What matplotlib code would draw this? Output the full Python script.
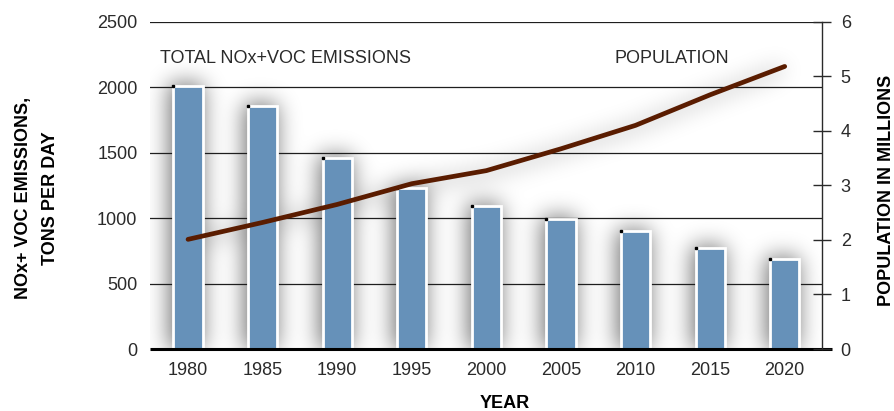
import numpy as np
import matplotlib
matplotlib.use("Agg")
import matplotlib.pyplot as plt

# Emissions (tons/day) and population (millions) by year
years = ["1980", "1985", "1990", "1995", "2000", "2005", "2010", "2015", "2020"]
emissions = [2010, 1855, 1462, 1230, 1093, 995, 898, 772, 690]
population = [2.01, 2.32, 2.65, 3.03, 3.27, 3.67, 4.10, 4.66, 5.18]

left_ticks = [0, 500, 1000, 1500, 2000, 2500]
right_ticks = [0, 1, 2, 3, 4, 5, 6]

BAR_COLOR = "#6691b9"
LINE_COLOR = "#5a1c00"
TEXT_COLOR = "#2a2a2a"
FONT = ["Liberation Sans", "DejaVu Sans"]

plt.rcParams["font.family"] = FONT

W_PX, H_PX = 895, 411
fig = plt.figure(figsize=(W_PX / 100, H_PX / 100), dpi=100)
ax_l, ax_r, ax_b, ax_t = 150 / W_PX, 822 / W_PX, 1 - 349 / H_PX, 1 - 21.7 / H_PX
ax = fig.add_axes([ax_l, ax_b, ax_r - ax_l, ax_t - ax_b])

x = np.arange(len(years))
bar_w = 0.39
xlim = (-0.51, 8.5)
ylim_l = (0, 2500)
ylim_r = (0, 6)
ax.set_xlim(*xlim)
ax.set_ylim(*ylim_l)

# ---- soft drop shadow under bars and the population line ----
axw = int(round((ax_r - ax_l) * W_PX))
axh = int(round((ax_t - ax_b) * H_PX))
xx, yy = np.meshgrid(np.arange(axw) + 0.5, np.arange(axh) + 0.5)
mask = np.zeros((axh, axw))

def to_px_x(v):
    return (np.asarray(v, float) - xlim[0]) / (xlim[1] - xlim[0]) * axw

off_x, off_y = -2.0, 2.0
for xi, v in zip(x, emissions):
    cx = to_px_x(xi) + off_x
    hw = bar_w / 2 / (xlim[1] - xlim[0]) * axw + 2
    top = v / ylim_l[1] * axh + off_y
    mask[(np.abs(xx - cx) < hw) & (yy < top)] = 1.0

lx = to_px_x(x) + off_x
ly = np.asarray(population) / ylim_r[1] * axh - 3
cols = np.arange(axw) + 0.5
inside = (cols >= lx[0]) & (cols <= lx[-1])
line_y = np.interp(cols, lx, ly)
line_mask = (np.abs(yy - line_y[None, :]) < 3) & inside[None, :]
mask = np.maximum(mask, line_mask * 0.7)

def gauss_blur(img, sigma):
    r = int(3 * sigma)
    k = np.exp(-0.5 * (np.arange(-r, r + 1) / sigma) ** 2)
    k /= k.sum()
    pad = np.pad(img, r)
    tmp = np.apply_along_axis(lambda m: np.convolve(m, k, mode="valid"), 1, pad)
    out = np.apply_along_axis(lambda m: np.convolve(m, k, mode="valid"), 0, tmp)
    return out

shadow = gauss_blur(mask, 11.0)
rgba = np.zeros((axh, axw, 4))
rgba[..., 3] = np.clip(shadow * 0.55, 0, 1)
ax.imshow(rgba, origin="lower", extent=(xlim[0], xlim[1], ylim_l[0], ylim_l[1]),
          aspect="auto", zorder=0.5, interpolation="bilinear")

# gridlines
for t in left_ticks[1:]:
    ax.axhline(t, color="#1e1e1e", lw=0.9, zorder=1)

# bars
ax.bar(x, emissions, width=bar_w, color=BAR_COLOR, edgecolor="white",
       linewidth=2.0, zorder=2)
ax.plot(x - bar_w / 2, emissions, ls="none", marker="s", ms=2.0,
        color="black", zorder=3)

# axes styling
for s in ["top", "left", "right", "bottom"]:
    ax.spines[s].set_visible(False)
ax.plot([0, 1 + 10 / axw], [0, 0], transform=ax.transAxes, color="black",
        lw=2.2, clip_on=False, zorder=4, solid_capstyle="butt")
ax.set_yticks(left_ticks)
ax.set_yticklabels([str(t) for t in left_ticks])
ax.tick_params(axis="y", length=0, pad=9, labelsize=13, labelcolor=TEXT_COLOR)
ax.set_xticks(x)
ax.set_xticklabels(years)
ax.tick_params(axis="x", length=0, pad=9, labelsize=13, labelcolor=TEXT_COLOR)

# population on the right axis
axr = ax.twinx()
axr.set_ylim(*ylim_r)
axr.set_xlim(*xlim)
for s in ["top", "left", "bottom"]:
    axr.spines[s].set_visible(False)
axr.spines["right"].set_color("#2a2a2a")
axr.spines["right"].set_linewidth(1.0)
axr.set_yticks(right_ticks)
axr.tick_params(axis="y", direction="inout", length=13, width=1.0,
                color="#2a2a2a", pad=7, labelsize=13, labelcolor=TEXT_COLOR)
axr.plot(x, population, color=LINE_COLOR, lw=3.4, solid_capstyle="round",
         solid_joinstyle="round", zorder=5)

# labels
fig.text(160 / W_PX, 1 - 58 / H_PX, "TOTAL NOx+VOC EMISSIONS", ha="left",
         va="center", fontsize=13, color=TEXT_COLOR)
fig.text(615 / W_PX, 1 - 58 / H_PX, "POPULATION", ha="left", va="center",
         fontsize=13, color=TEXT_COLOR)
fig.text(37 / W_PX, 1 - 198 / H_PX, "NOx+ VOC EMISSIONS,\nTONS PER DAY",
         rotation=90, ha="center", va="center", fontsize=13, fontweight="bold",
         color="black", linespacing=1.75, multialignment="center")
fig.text(887 / W_PX, 1 - 190 / H_PX, "POPULATION IN MILLIONS", rotation=90,
         ha="center", va="center", fontsize=13, fontweight="bold", color="black")
fig.text(505 / W_PX, 1 - 403 / H_PX, "YEAR", ha="center", va="center",
         fontsize=13, fontweight="bold", color="black")

fig.savefig("out.png", dpi=100)
